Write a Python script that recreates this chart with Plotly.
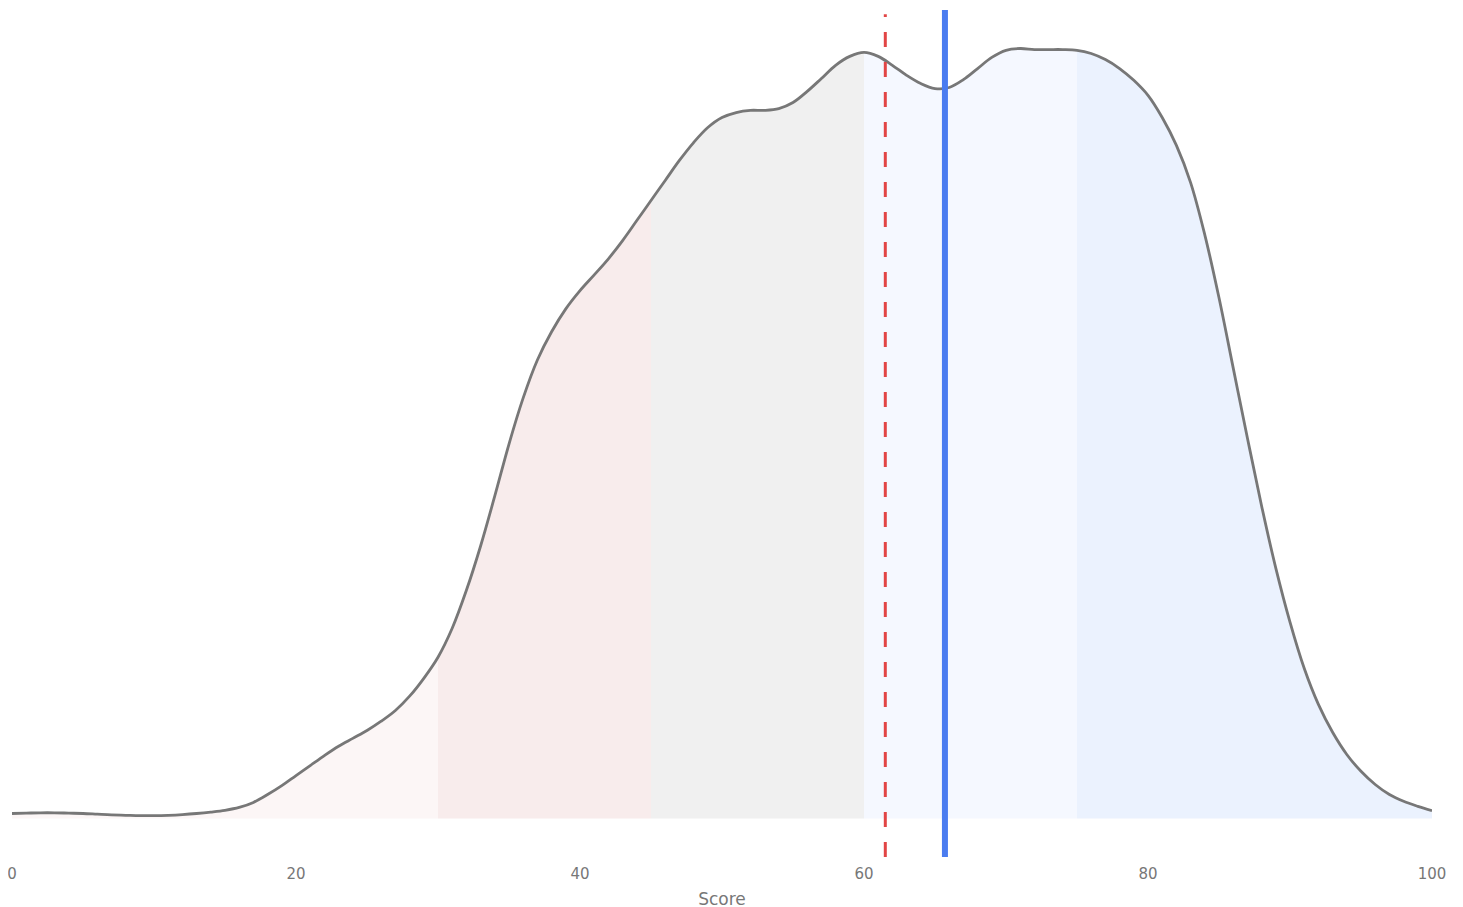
import plotly.graph_objects as go

# KDE of scores (density in % per score point)
scores = list(range(0, 101))
density = [
    0.014, 0.015, 0.016, 0.016, 0.015, 0.014, 0.012, 0.010, 0.009, 0.008,
    0.008, 0.009, 0.011, 0.014, 0.018, 0.023, 0.031, 0.045, 0.067, 0.092,
    0.120, 0.148, 0.176, 0.202, 0.224, 0.246, 0.272, 0.302, 0.342, 0.392,
    0.451, 0.532, 0.638, 0.762, 0.902, 1.047, 1.176, 1.282, 1.361, 1.425,
    1.476, 1.520, 1.565, 1.616, 1.672, 1.728, 1.784, 1.840, 1.890, 1.932,
    1.960, 1.974, 1.980, 1.980, 1.985, 2.002, 2.033, 2.069, 2.106, 2.131,
    2.142, 2.131, 2.106, 2.078, 2.055, 2.041, 2.044, 2.066, 2.097, 2.128,
    2.148, 2.153, 2.150, 2.150, 2.150, 2.148, 2.139, 2.122, 2.097, 2.064,
    2.022, 1.960, 1.882, 1.778, 1.632, 1.456, 1.260, 1.064, 0.874, 0.700,
    0.549, 0.420, 0.319, 0.241, 0.179, 0.132, 0.095, 0.067, 0.048, 0.034,
    0.022,
]

# shaded score bands under the curve
band_edges = [0, 30, 45, 60, 75, 100]
band_colors = ["#FCF6F6", "#F8ECEC", "#F0F0F0", "#F5F8FF", "#EBF2FE"]

threshold = 61.5   # red dashed
your_score = 65.7  # blue solid

GRAY = "#777777"
FONT = "DejaVu Sans, sans-serif"

fig = go.Figure()

for lo, hi, col in zip(band_edges[:-1], band_edges[1:], band_colors):
    xs = [s for s in scores if lo <= s <= hi]
    ys = [density[s] for s in xs]
    fig.add_trace(go.Scatter(x=xs, y=ys, mode="lines", fill="tozeroy",
                             fillcolor=col, line=dict(width=0, shape="spline"),
                             hoverinfo="skip", showlegend=False))

fig.add_trace(go.Scatter(x=scores, y=density, mode="lines",
                         line=dict(color=GRAY, width=2.8, shape="spline", smoothing=1.0),
                         showlegend=False,
                         hovertemplate="Score %{x}<br>%{y:.3f}<extra></extra>"))

fig.add_shape(type="line", xref="x", yref="paper", x0=threshold, x1=threshold,
              y0=0, y1=0.995, line=dict(color="#E24545", width=3, dash="longdash"))
fig.add_shape(type="line", xref="x", yref="paper", x0=your_score, x1=your_score,
              y0=0, y1=1, line=dict(color="#4A7CF0", width=6))

ymax = max(density)
fig.update_layout(
    width=1463, height=907,
    template="plotly_white",
    font=dict(family=FONT, size=15, color=GRAY),
    margin=dict(l=4, r=39, t=2, b=58),
    plot_bgcolor="white",
    paper_bgcolor="white",
    showlegend=False,
)
fig.update_xaxes(range=[0, 100], tickvals=[0, 20, 40, 60, 80, 100],
                 showgrid=False, zeroline=False, showline=False, ticks="",
                 automargin=False,
                 ticklabelstandoff=6, ticklabeloverflow="allow",
                 title=dict(text="Score", font=dict(size=17, color=GRAY), standoff=11),
                 tickfont=dict(size=15, color=GRAY))
fig.update_yaxes(range=[-0.05 * ymax, 1.05 * ymax], visible=False)

fig.write_html("out.html")
